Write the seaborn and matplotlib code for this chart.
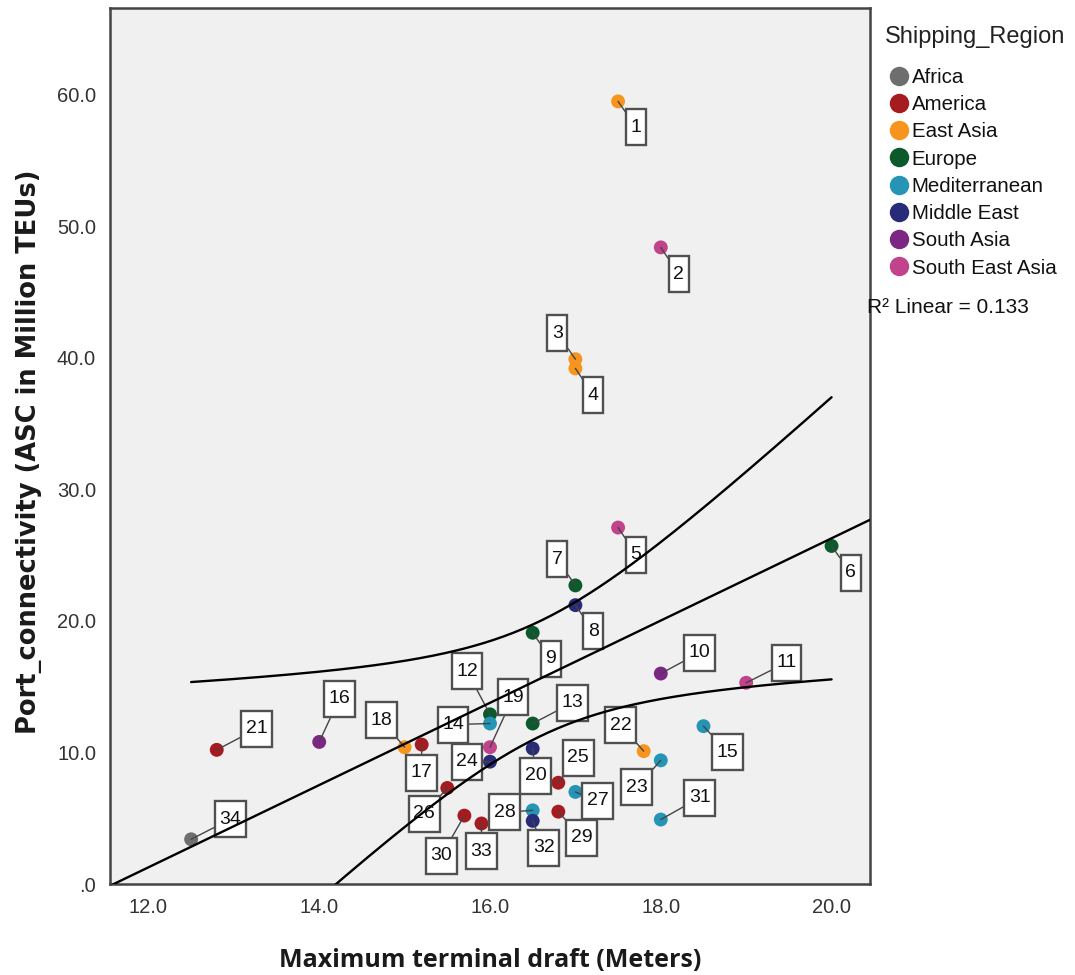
import numpy as np
import pandas as pd
import matplotlib
matplotlib.use("Agg")
import matplotlib.pyplot as plt
from matplotlib.lines import Line2D
from matplotlib.path import Path
import seaborn as sns

# Ports ranked by connectivity (label = rank)
port_rank = list(range(1, 35))
max_draft = [17.5, 18.0, 17.0, 17.0, 17.5, 20.0, 17.0, 17.0, 16.5, 18.0,
             19.0, 16.0, 16.5, 16.0, 18.5, 14.0, 15.2, 15.0, 16.0, 16.5,
             12.8, 17.8, 18.0, 16.0, 16.8, 15.5, 17.0, 16.5, 16.8, 15.7,
             18.0, 16.5, 15.9, 12.5]
connectivity = [59.5, 48.4, 39.9, 39.2, 27.1, 25.7, 22.7, 21.2, 19.1, 16.0,
                15.3, 12.9, 12.2, 12.2, 12.0, 10.8, 10.6, 10.4, 10.4, 10.3,
                10.2, 10.1, 9.4, 9.3, 7.7, 7.3, 7.0, 5.6, 5.5, 5.2,
                4.9, 4.8, 4.6, 3.4]
region = ["East Asia", "South East Asia", "East Asia", "East Asia", "South East Asia",
          "Europe", "Europe", "Middle East", "Europe", "South Asia",
          "South East Asia", "Europe", "Europe", "Mediterranean", "Mediterranean",
          "South Asia", "America", "East Asia", "South East Asia", "Middle East",
          "America", "East Asia", "Mediterranean", "Middle East", "America",
          "America", "Mediterranean", "Mediterranean", "America", "America",
          "Mediterranean", "Middle East", "America", "Africa"]

region_order = ["Africa", "America", "East Asia", "Europe", "Mediterranean",
                "Middle East", "South Asia", "South East Asia"]
region_colors = ["#6e6e6e", "#a51b20", "#f7941d", "#0c5a2c", "#2594b5",
                 "#282b78", "#7c2783", "#c1438b"]

x_ticks = [12.0, 14.0, 16.0, 18.0, 20.0]
x_tick_labels = ["12.0", "14.0", "16.0", "18.0", "20.0"]
y_ticks = [0, 10, 20, 30, 40, 50, 60]
y_tick_labels = [".0", "10.0", "20.0", "30.0", "40.0", "50.0", "60.0"]

# label box offsets from each point, in pixels (dx right, dy up)
label_offsets = [(18, -26), (18, -27), (-18, 26), (18, -27), (18, -27),
                 (19, -27), (-18, 26), (18, -26), (18, -26), (39, 21),
                 (40, 20), (-23, 43), (40, 21), (-37, -1), (24, -26),
                 (20, 43), (0, -28), (-23, 27), (23, 50), (3, -27),
                 (40, 21), (-23, 26), (-24, -27), (-23, 0), (20, 25),
                 (-23, -26), (22, -9), (-28, -2), (23, -26), (-23, -40),
                 (39, 22), (11, -27), (0, -28), (39, 20)]


def label_box(x0, y0, width, height, mutation_size):
    """Rectangle with a fixed height and small side padding around the text."""
    pad_x = 4.5
    box_h = 36.0
    cy = y0 + height / 2
    left, right = x0 - pad_x, x0 + width + pad_x
    bottom, top = cy - box_h / 2, cy + box_h / 2
    return Path([(left, bottom), (right, bottom), (right, top), (left, top),
                 (left, bottom)], closed=True)


df = pd.DataFrame({"rank": port_rank, "draft": max_draft,
                   "conn": connectivity, "region": region})

sns.set_style("white")
plt.rcParams["font.family"] = ["Liberation Sans", "DejaVu Sans"]

fig = plt.figure(figsize=(10.75, 9.75), dpi=100)
ax = fig.add_axes([110 / 1075, 1 - 884 / 975, 760 / 1075, 876 / 975])
ax.set_facecolor("#f0f0f0")

palette = dict(zip(region_order, region_colors))
sns.scatterplot(data=df, x="draft", y="conn", hue="region", hue_order=region_order,
                palette=palette, s=100, linewidth=0, legend=False, ax=ax, zorder=3)

xlim = (11.55, 20.45)
ylim = (0, 66.6)

# point labels with leader lines
for rk, xv, yv, (dx, dy) in zip(port_rank, max_draft, connectivity, label_offsets):
    ax.annotate(str(rk), xy=(xv, yv), xytext=(dx, dy), textcoords="offset pixels",
                ha="center", va="center", fontsize=14, color="#111111", zorder=4,
                bbox=dict(boxstyle=label_box, fc="white", ec="#505050", lw=1.7),
                arrowprops=dict(arrowstyle="-", color="#444444", lw=1.0,
                                shrinkA=0, shrinkB=0))

# linear fit with 95% confidence band for the mean
x = np.asarray(max_draft)
y = np.asarray(connectivity)
n = len(x)
slope, intercept = np.polyfit(x, y, 1)
yhat = intercept + slope * x
resid = y - yhat
r2 = 1 - np.sum(resid ** 2) / np.sum((y - y.mean()) ** 2)
s_err = np.sqrt(np.sum(resid ** 2) / (n - 2))
sxx = np.sum((x - x.mean()) ** 2)
t_crit = 2.0369  # t(0.975, df=32)

xs_line = np.linspace(xlim[0], xlim[1], 200)
sns.lineplot(x=xs_line, y=intercept + slope * xs_line, color="black", lw=1.7,
             ax=ax, zorder=5)
xs_band = np.linspace(x.min(), x.max(), 200)
fit_band = intercept + slope * xs_band
half = t_crit * s_err * np.sqrt(1 / n + (xs_band - x.mean()) ** 2 / sxx)
sns.lineplot(x=xs_band, y=fit_band + half, color="black", lw=1.7, ax=ax, zorder=5)
sns.lineplot(x=xs_band, y=fit_band - half, color="black", lw=1.7, ax=ax, zorder=5)

ax.set_xlim(*xlim)
ax.set_ylim(*ylim)
ax.set_xticks(x_ticks)
ax.set_xticklabels(x_tick_labels)
ax.set_yticks(y_ticks)
ax.set_yticklabels(y_tick_labels)
ax.tick_params(axis="both", direction="out", length=7, width=1.5, color="#333333",
               labelsize=14.5, labelcolor="#333333", pad=3)
for sp in ax.spines.values():
    sp.set_visible(True)
    sp.set_color("#444444")
    sp.set_linewidth(1.8)

ax.set_xlabel("Maximum terminal draft (Meters)", fontsize=18, fontweight="bold",
              family=["Open Sans", "DejaVu Sans"], color="#1a1a1a")
ax.set_ylabel("Port_connectivity (ASC in Million TEUs)", fontsize=18.5, fontweight="bold",
              family=["DejaVu Sans"], color="#1a1a1a")
ax.xaxis.set_label_coords(0.5, -0.073)
ax.yaxis.set_label_coords(-0.0895, 0.494)

# legend
fig.text(885 / 1075, 1 - 37 / 975, "Shipping_Region", fontsize=17, color="#222222",
         ha="left", va="center")
handles = [Line2D([], [], marker="o", ls="", markersize=14, markeredgewidth=0,
                  color=c) for c in region_colors]
leg = fig.legend(handles, region_order, loc="upper left",
                 bbox_to_anchor=(891 / 1075, 1 - 68 / 975), frameon=False,
                 fontsize=14.8, handlelength=0.8, handletextpad=0.2,
                 labelspacing=0.4, borderpad=0, borderaxespad=0)
for t in leg.get_texts():
    t.set_color("#111111")

fig.text(867 / 1075, 1 - 307 / 975, f"R² Linear = {r2:.3f}", fontsize=15,
         color="#111111", ha="left", va="center")

fig.savefig("out.png", dpi=100, facecolor="white")
